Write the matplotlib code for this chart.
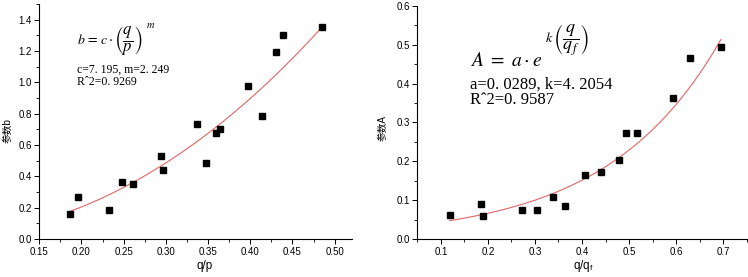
import numpy as np
import matplotlib
matplotlib.use("Agg")
import matplotlib.pyplot as plt
from matplotlib.ticker import MultipleLocator, FormatStrFormatter

plt.rcParams['font.family'] = ['Liberation Sans', 'Noto Sans CJK SC', 'DejaVu Sans']
plt.rcParams['mathtext.fontset'] = 'stix'

# Left panel data: b vs q/p
qp = [0.1863, 0.1962, 0.2324, 0.2485, 0.2611, 0.2939, 0.2962, 0.3364, 0.3479,
      0.3589, 0.3636, 0.3975, 0.4137, 0.4306, 0.4393, 0.4846]
b_vals = [0.161, 0.265, 0.187, 0.367, 0.354, 0.528, 0.443, 0.734, 0.488,
          0.677, 0.702, 0.974, 0.785, 1.194, 1.302, 1.353]
# fitted power curve as drawn
c_curve, m_curve = 6.32, 2.131

# Right panel data: A vs q/qf
qqf = [0.1185, 0.1852, 0.1895, 0.2733, 0.3045, 0.3379, 0.3634, 0.4060, 0.4401,
       0.4778, 0.4941, 0.5168, 0.5935, 0.6297, 0.6950]
A_vals = [0.0609, 0.091, 0.0584, 0.0747, 0.0747, 0.107, 0.085, 0.165, 0.1725,
          0.2026, 0.272, 0.272, 0.364, 0.465, 0.4936]
# fitted exponential curve as drawn
a_curve, k_curve = 0.0289, 4.14

W, H = 748, 277
fig = plt.figure(figsize=(W / 100, H / 100), dpi=100)

def px(x, y):
    return x / W, 1 - y / H

ax1 = fig.add_axes([39.3 / W, 1 - 239 / H, 312.2 / W, 235 / H])
ax2 = fig.add_axes([417.3 / W, 1 - 239 / H, 329.4 / W, 233 / H])

curve_col = '#e06666'
for ax in (ax1, ax2):
    for s in ('top', 'right'):
        ax.spines[s].set_visible(False)
    ax.spines['left'].set_linewidth(0.8)
    ax.spines['bottom'].set_linewidth(0.8)
    ax.tick_params(which='major', direction='out', length=3.5, width=0.7, labelsize=7, pad=2)
    ax.tick_params(which='minor', direction='out', length=2, width=0.6)

# Left
xs = np.linspace(min(qp), max(qp), 200)
ax1.plot(xs, c_curve * xs ** m_curve, color=curve_col, lw=0.8)
ax1.plot(qp, b_vals, 's', color='black', ms=4)
ax1.set_xlim(0.15, 0.52)
ax1.set_ylim(0, 1.5)
ax1.xaxis.set_major_locator(MultipleLocator(0.05))
ax1.xaxis.set_minor_locator(MultipleLocator(0.025))
ax1.yaxis.set_major_locator(MultipleLocator(0.2))
ax1.yaxis.set_minor_locator(MultipleLocator(0.1))
ax1.xaxis.set_major_formatter(FormatStrFormatter('%.2f'))
ax1.yaxis.set_major_formatter(FormatStrFormatter('%.1f'))
fig.text(*px(205, 265.5), 'q/p', fontsize=8.5, ha='center', va='center')
fig.text(*px(7.5, 131), '参数b', fontsize=7, ha='center', va='center', rotation=90)

fig.text(*px(76.7, 43.5), r'$b\,=\,c\cdot$', fontsize=10, va='baseline', ha='left')
fig.text(*px(128.5, 41), r'$\left(\dfrac{q}{p}\right)$', fontsize=12, va='center', ha='center')
fig.text(*px(146, 25), r'$m$', fontsize=7.5, va='center', ha='left')
fig.text(*px(76.7, 69.3), 'c=7. 195, m=2. 249', fontsize=8.5,
         family='Liberation Serif', va='center')
fig.text(*px(76.7, 81.7), 'Rˆ2=0. 9269', fontsize=8.5,
         family='Liberation Serif', va='center')

# Right
xs2 = np.linspace(min(qqf), max(qqf), 200)
ax2.plot(xs2, a_curve * np.exp(k_curve * xs2), color=curve_col, lw=0.8)
ax2.plot(qqf, A_vals, 's', color='black', ms=4)
ax2.set_xlim(0.05, 0.75)
ax2.set_ylim(0, 0.6)
ax2.xaxis.set_major_locator(MultipleLocator(0.1))
ax2.xaxis.set_minor_locator(MultipleLocator(0.05))
ax2.yaxis.set_major_locator(MultipleLocator(0.1))
ax2.yaxis.set_minor_locator(MultipleLocator(0.05))
ax2.xaxis.set_major_formatter(FormatStrFormatter('%.1f'))
ax2.yaxis.set_major_formatter(FormatStrFormatter('%.1f'))
fig.text(*px(583.5, 265.5), r'q/q$_{\mathregular{f}}$', fontsize=8.5, ha='center', va='center')
fig.text(*px(383, 128), '参数A', fontsize=7, ha='center', va='center', rotation=90)

fig.text(*px(470, 65.7), r'$A\ =\ a\cdot e$', fontsize=14, va='baseline', ha='left')
fig.text(*px(545, 38), r'$k$', fontsize=10, va='center', ha='left')
fig.text(*px(571, 40), r'$\left(\dfrac{q}{q_{\,f}}\right)$', fontsize=13,
         va='center', ha='center')
fig.text(*px(470, 85), 'a=0. 0289, k=4. 2054', fontsize=12,
         family='Liberation Serif', va='center')
fig.text(*px(470, 100), 'Rˆ2=0. 9587', fontsize=12,
         family='Liberation Serif', va='center')

fig.savefig('out.png', dpi=100)
